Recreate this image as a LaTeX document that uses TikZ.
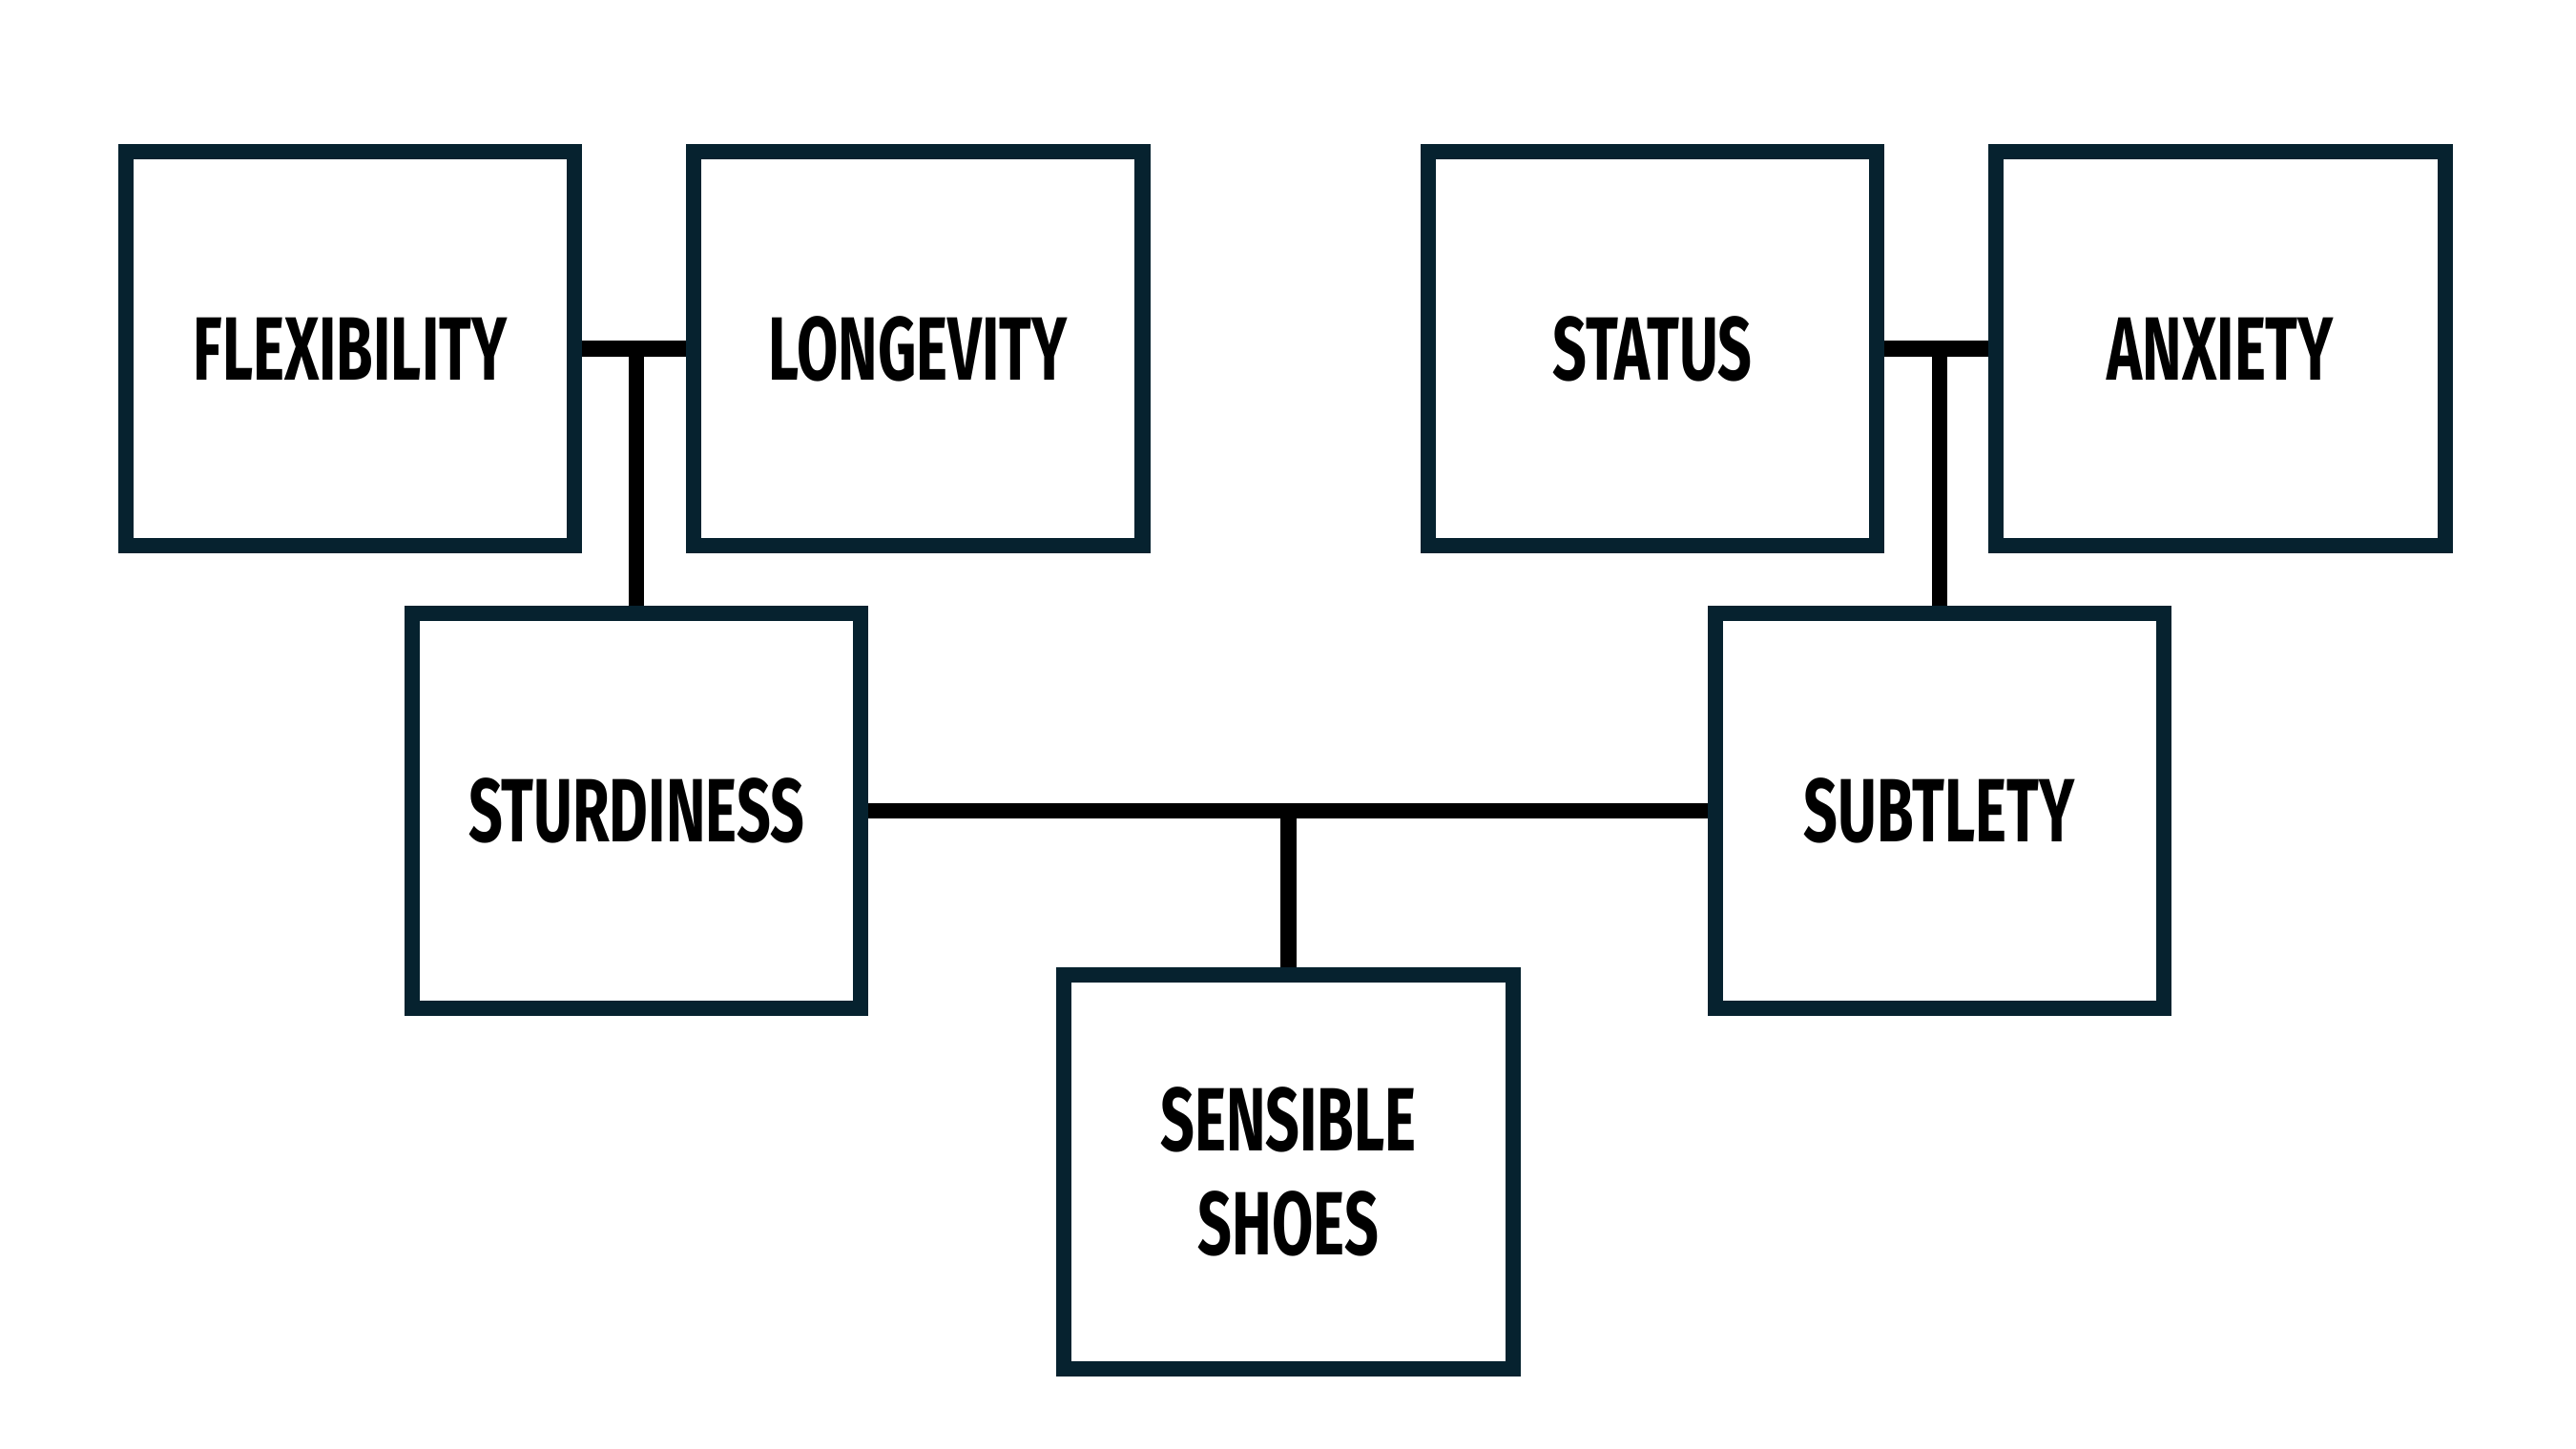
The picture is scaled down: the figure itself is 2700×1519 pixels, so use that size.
\documentclass[tikz,border=0pt]{standalone}
\usepackage{fontspec}
\setmainfont{Fira Sans}[FakeStretch=0.665]
\usepackage{tikz}
\usetikzlibrary{positioning}

\definecolor{boxnavy}{RGB}{6,34,47}

\begin{document}
\begin{tikzpicture}[x=0.01cm, y=-0.01cm,
		conceptbox/.style={draw=boxnavy,
			line width=0.16cm,
			fill=white,
			inner sep=0pt,
			align=center,
			minimum width=4.7cm,
			minimum height=4.13cm,
			font=\bfseries\fontsize{26.8pt}{31pt}\selectfont},
		link/.style={draw=black, line width=0.165cm}
		]
			\useasboundingbox (0,0) rectangle (2700,1519);
			
			% Flexibility
			\node [conceptbox] (fx) at (367,365.5) {FLEXIBILITY};
			
			% Longevity
			\node [conceptbox,
				right=1.09cm of fx
				] (lg) {LONGEVITY};
			
			% Status
			\node [conceptbox] (stat) at (1732,365.5) {STATUS};
			
			% Anxiety
			\node [conceptbox,
				right=1.09cm of stat
				] (anx) {ANXIETY};
			
			% Sturdiness
			\node [conceptbox] (sturd) at (667,850) {STURDINESS};
			
			% Subtlety
			\node [conceptbox,
				right=8.79cm of sturd
				] (subt) {SUBTLETY};
			
			% Sensible Shoes
			\node [conceptbox] (shoes) at (1350.5,1228.5) {SENSIBLE\\SHOES};
			
			% Links
			\draw[link] (fx.east) -- (lg.west);
			\draw[link] (sturd.north) -- (sturd.north |- fx.east);
			\draw[link] (stat.east) -- (anx.west);
			\draw[link] (subt.north) -- (subt.north |- stat.east);
			\draw[link] (sturd.east) -- (subt.west);
			\draw[link] (shoes.north) -- (shoes.north |- sturd.east);
		
		\end{tikzpicture}
\end{document}
